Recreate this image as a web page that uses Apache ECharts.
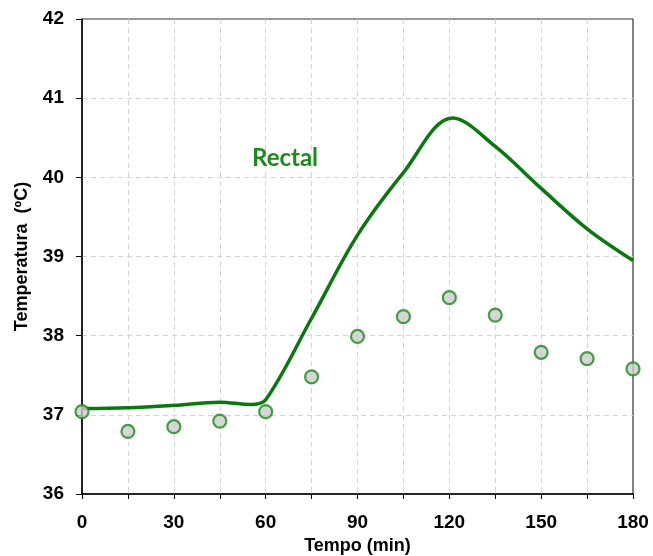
<!DOCTYPE html>
<html>
<head>
<meta charset="utf-8">
<script src="https://cdn.jsdelivr.net/npm/echarts@6/dist/echarts.min.js"></script>
<style>html,body{margin:0;padding:0;background:#fff}#c{width:653px;height:556px}</style>
</head>
<body>
<div id="c"></div>
<script>
// Rectal temperature curve (smoothed line)
var lineTimes = [0, 15, 30, 45, 55, 60, 75, 90, 105, 121, 135, 150, 165, 180];
var lineTemps = [37.08, 37.09, 37.12, 37.16, 37.13, 37.19, 38.22, 39.27, 40.06, 40.75, 40.39, 39.86, 39.35, 38.95];
// Point series (markers)
var pointTimes = [0, 15, 30, 45, 60, 75, 90, 105, 120, 135, 150, 165, 180];
var pointTemps = [37.04, 36.79, 36.85, 36.92, 37.04, 37.48, 37.99, 38.24, 38.48, 38.26, 37.79, 37.71, 37.58];
var xTicks = [0, 30, 60, 90, 120, 150, 180];
var seriesLabel = 'Rectal';

function pairs(xs, ys) { return xs.map(function (x, i) { return [x, ys[i]]; }); }

var chart = echarts.init(document.getElementById('c'), null, { renderer: 'canvas' });
var font = 'Liberation Sans, Arial, sans-serif';
var gridLine = { show: true, showMinLine: false, showMaxLine: false, lineStyle: { color: '#d4d4d4', type: [5, 4], width: 1 } };
chart.setOption({
  animation: false,
  backgroundColor: '#fff',
  grid: {
    left: 82, right: 20, top: 19, bottom: 62, containLabel: false, outerBoundsMode: 'none',
    show: true, borderColor: '#333', borderWidth: 1.2
  },
  xAxis: {
    type: 'value', min: 0, max: 180, interval: 15,
    name: 'Tempo (min)', nameLocation: 'middle', nameGap: 43,
    nameTextStyle: { fontFamily: font, fontWeight: 'bold', fontSize: 18, color: '#000' },
    axisLine: { show: true, lineStyle: { color: '#000', width: 1.5 } },
    axisTick: { show: true, inside: false, length: 5, lineStyle: { color: '#000' } },
    axisLabel: {
      margin: 19, fontFamily: font, fontWeight: 'bold', fontSize: 19, color: '#000',
      formatter: function (v) { return xTicks.indexOf(v) >= 0 ? String(v) : ''; }
    },
    splitLine: gridLine
  },
  yAxis: {
    type: 'value', min: 36, max: 42, interval: 1,
    name: 'Temperatura  (ºC)', nameLocation: 'middle', nameGap: 51, nameRotate: 90,
    nameTextStyle: { fontFamily: font, fontWeight: 'bold', fontSize: 18, color: '#000' },
    axisLine: { show: true, lineStyle: { color: '#000', width: 1.5 } },
    axisTick: { show: true, inside: false, length: 6, lineStyle: { color: '#000' } },
    axisLabel: { margin: 18, fontFamily: font, fontWeight: 'bold', fontSize: 19, color: '#000' },
    splitLine: gridLine
  },
  graphic: [{
    type: 'text', left: 252, top: 146, z: 10,
    style: { text: seriesLabel, fill: '#1b8a1b', fontFamily: 'Lato', fontWeight: 'bold', fontSize: 24 }
  }],
  series: [
    {
      type: 'line', name: seriesLabel, data: pairs(lineTimes, lineTemps), smooth: 0.35,
      showSymbol: false, symbol: 'none',
      lineStyle: { color: '#08780f', width: 3.5 }, z: 3
    },
    {
      type: 'scatter', data: pairs(pointTimes, pointTemps), symbol: 'circle', symbolSize: 13,
      itemStyle: { color: '#cccccc', borderColor: '#1a8a1a', borderWidth: 2.2 }, z: 4
    }
  ]
});
</script>
</body>
</html>
